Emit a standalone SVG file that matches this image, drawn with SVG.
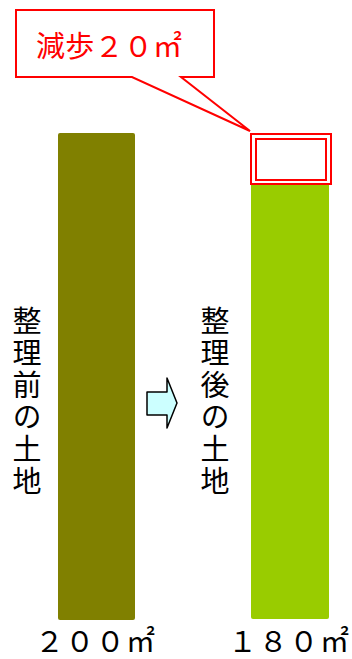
<svg xmlns="http://www.w3.org/2000/svg" width="352" height="659" viewBox="0 0 352 659">
<style>
.v{font-family:"Noto Sans CJK JP","Noto Sans",sans-serif;font-size:29px;fill:#000;writing-mode:vertical-rl;letter-spacing:3px}
.r{fill:none;stroke:#ff0000;stroke-width:2}
.n{font-family:"Noto Sans CJK JP",sans-serif;font-size:29px;fill:#000}
</style>
<rect width="352" height="659" fill="#fff"/>
<g id="callout">
<path d="M16,10 H214 V77 H181 L250,131 L132,77 H16 Z" fill="#fff" stroke="#ff0000" stroke-width="2" stroke-linejoin="miter"/>
<text x="36" y="57" font-family="'Noto Sans CJK JP',sans-serif" font-size="29" fill="#ff0000" textLength="146">減歩２０㎡</text>
</g>
<g id="before-land">
<rect x="58" y="133" width="77" height="487" rx="2" fill="#808000"/>
</g>
<g id="after-land">
<rect x="251" y="183" width="78" height="436" rx="2" fill="#99cc00"/>
</g>
<g id="reduction">
<rect x="251" y="134" width="80" height="50" class="r"/>
<rect x="256" y="139" width="70" height="41" class="r"/>
</g>
<g id="label-before">
<text class="v" x="27" y="306">整理前の土地</text>
</g>
<g id="label-after">
<text class="v" x="215" y="306">整理後の土地</text>
</g>
<g id="connectors">
<path d="M147,392 H167 V378 L177,403 L167,428 V415 H147 Z" fill="#ccffff" stroke="#000" stroke-width="1.5" stroke-linejoin="round"/>
</g>
<g id="area-before">
<text class="n" x="35" y="652" textLength="120">２００㎡</text>
</g>
<g id="area-after">
<text class="n" x="228" y="652" textLength="121">１８０㎡</text>
</g>
</svg>
